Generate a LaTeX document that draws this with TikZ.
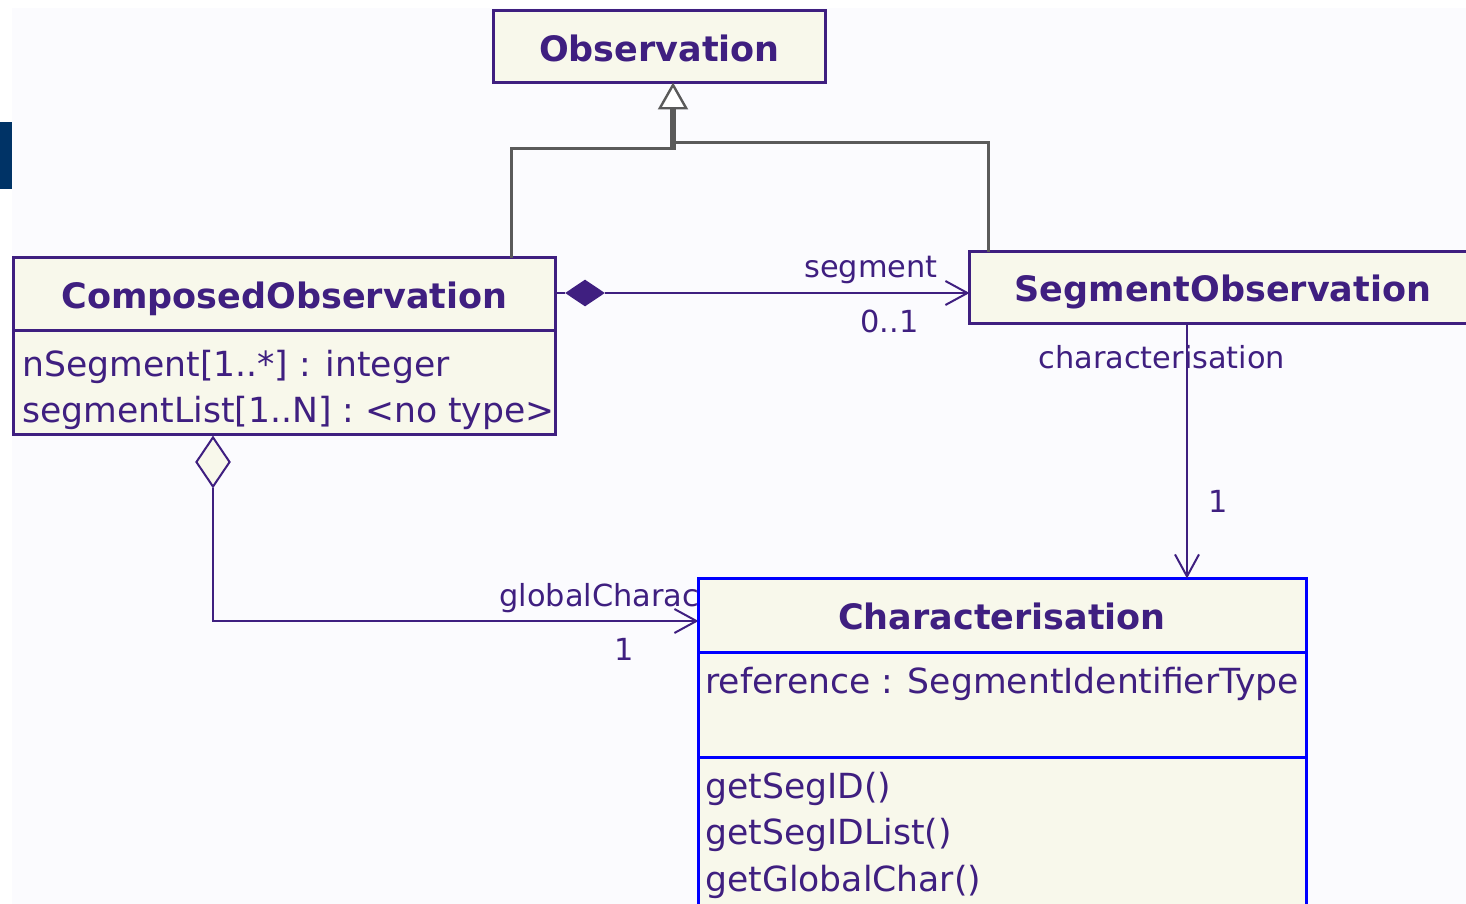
\documentclass[tikz,border=0pt]{standalone}
\usepackage{fontspec}
\setmainfont{DejaVu Sans}
\usetikzlibrary{arrows.meta,shapes.geometric}
\definecolor{bgc}{HTML}{FBFBFE}
\definecolor{boxfill}{HTML}{F8F8EB}
\definecolor{umlp}{HTML}{3F1F80}
\definecolor{umlb}{HTML}{0000FF}
\definecolor{gengray}{HTML}{5A5A5A}
\definecolor{navybar}{HTML}{003366}
\begin{document}
\begin{tikzpicture}[x=0.5pt,y=-0.5pt,
  classbox/.style={draw=umlp, fill=boxfill, line width=1.5pt, rectangle, inner sep=0pt, outer sep=0pt, anchor=north west},
  titletext/.style={text=umlp, font=\fontsize{17.5pt}{21pt}\selectfont\bfseries, inner sep=0pt, anchor=base},
  membertext/.style={text=umlp, font=\fontsize{17.3pt}{21pt}\selectfont, inner sep=0pt, anchor=base west},
  roletext/.style={text=umlp, font=\fontsize{15.2pt}{18pt}\selectfont, inner sep=0pt},
  assoc/.style={draw=umlp, line width=1.4pt},
  opentip/.style={-{Straight Barb[length=11pt,width=12pt,line width=1pt]}},
  genline/.style={draw=gengray, line width=1.5pt}
]
\clip (0,0) rectangle (1466,904);
\fill[white] (0,0) rectangle (1466,904);
\fill[bgc] (12,8) rectangle (1466,904);
\fill[navybar] (0,122) rectangle (12,188.5);

% coordinates for connector ends
\coordinate (gj) at (673,149.5);
\coordinate (gl) at (676,148);
\coordinate (gr) at (676,142);
\coordinate (g1) at (511,0);
\coordinate (g2) at (988,0);
\coordinate (cx) at (1187,0);
\coordinate (gt) at (698.5,621);

% class boxes
\node[classbox, minimum width=166pt, minimum height=36pt] (ob) at (493.5,10.5) {};
\node[classbox, minimum width=271pt, minimum height=88.5pt] (co) at (13.5,257.5) {};
\node[classbox, minimum width=260pt, minimum height=36pt] (so) at (969.5,251.5) {};

% generalization
\draw[genline] (co.north -| g1) |- (gl);
\draw[genline] (so.north -| g2) |- (gr);
\draw[draw=gengray, line width=3pt, -{Triangle[length=13.5pt,width=15pt,line width=1.2pt,fill=white]}] (gj) -- (ob.south -| gj);

% titles
\node[titletext] (obt) at (659.5,62) {Observation};
\node[titletext] (cot) at (284.5,308) {ComposedObservation};
\node[titletext] (sot) at (1223,301) {SegmentObservation};

% ComposedObservation compartment
\draw[umlp, line width=1.5pt] (co.west |- 0,330) -- (co.east |- 0,330);
\node[membertext] (a1) at (22,376) {nSegment[1..*] : integer};
\node[membertext] (a2) at (22,422) {segmentList[1..N] : <no type>};

% composition
\node[diamond, fill=umlp, inner sep=0pt, minimum width=20pt, minimum height=13.5pt] (cd) at (585,293) {};
\draw[assoc] (co.east |- cd) -- (cd.west);
\draw[assoc, opentip] (cd.east) -- (so.west |- cd);
\node[roletext, anchor=base east] (l1) at (938,277) {segment};
\node[roletext, anchor=base west] (l2) at (860,332) {0..1};

% aggregation
\node[diamond, draw=umlp, fill=boxfill, line width=1pt, inner sep=0pt, minimum width=17pt, minimum height=25pt] (ad) at (213,462) {};
\draw[assoc, opentip] (ad.south) |- (gt);
\node[roletext, anchor=base west] (l5) at (499,606) {globalCharac};
\node[roletext, anchor=base west] (l6) at (614,660) {1};

% Characterisation
\node[classbox, draw=umlb, minimum width=304pt, minimum height=180pt] (ch) at (698.5,578.5) {};
\draw[umlb, line width=1.5pt] (ch.west |- 0,652) -- (ch.east |- 0,652);
\draw[umlb, line width=1.5pt] (ch.west |- 0,757) -- (ch.east |- 0,757);
\node[titletext] (cht) at (1002,629) {Characterisation};
\node[membertext] (a3) at (705,693) {reference : SegmentIdentifierType};
\node[membertext] (m1) at (705,798) {getSegID()};
\node[membertext] (m2) at (705,844.5) {getSegIDList()};
\node[membertext] (m3) at (705,891) {getGlobalChar()};

% association to Characterisation
\draw[assoc, line width=1.2pt, opentip] (so.south -| cx) -- (ch.north -| cx);
\node[roletext, anchor=base west] (l3) at (1038,368) {characterisation};
\node[roletext, anchor=base west] (l4) at (1208,512) {1};
\end{tikzpicture}
\end{document}
